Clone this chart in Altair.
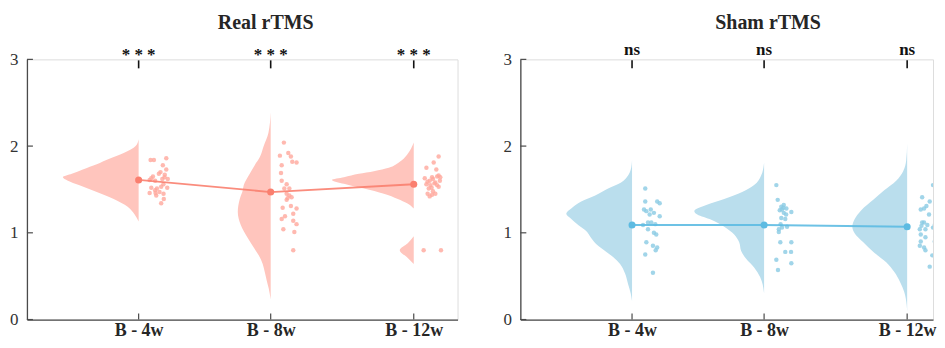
import altair as alt
import pandas as pd

# ---------------- data ----------------
panels = ["Real rTMS", "Sham rTMS"]
conditions = ["B - 4w", "B - 8w", "B - 12w"]
positions = [1.0, 1.96, 3.0]
sig_real = ["* * *", "* * *", "* * *"]
sig_sham = ["ns", "ns", "ns"]
means_real = [1.61, 1.47, 1.56]
means_sham = [1.09, 1.09, 1.07]

# violin half-profiles: value and density (half-width)
real_4w_vy = [1.13, 1.21, 1.30, 1.39, 1.47, 1.55, 1.60, 1.64, 1.68, 1.73, 1.79, 1.85, 1.92, 2.00, 2.08]
real_4w_vd = [0.0, 0.04, 0.11, 0.25, 0.42, 0.60, 0.71, 0.76, 0.67, 0.56, 0.42, 0.30, 0.15, 0.03, 0.0]
real_8w_vy = [0.23, 0.36, 0.45, 0.55, 0.64, 0.74, 0.83, 0.94, 1.09, 1.24, 1.39, 1.49, 1.55, 1.68, 1.78, 1.87, 2.00, 2.15, 2.39]
real_8w_vd = [0.0, 0.02, 0.04, 0.06, 0.08, 0.12, 0.17, 0.23, 0.30, 0.33, 0.31, 0.28, 0.27, 0.21, 0.16, 0.11, 0.07, 0.023, 0.0]
real_12w_vy = [1.28, 1.34, 1.39, 1.45, 1.51, 1.565, 1.61, 1.64, 1.68, 1.71, 1.75, 1.81, 1.90, 2.04]
real_12w_vd = [0.0, 0.067, 0.16, 0.30, 0.50, 0.70, 0.82, 0.70, 0.55, 0.40, 0.25, 0.15, 0.067, 0.0]
real_12w_low_vy = [0.64, 0.72, 0.80, 0.88, 0.96]
real_12w_low_vd = [0.0, 0.07, 0.14, 0.06, 0.0]
sham_4w_vy = [0.21, 0.30, 0.41, 0.53, 0.64, 0.72, 0.79, 0.87, 0.94, 1.02, 1.09, 1.17, 1.22, 1.28, 1.36, 1.43, 1.51, 1.58, 1.66, 1.73, 1.84]
sham_4w_vd = [0.0, 0.013, 0.04, 0.07, 0.12, 0.19, 0.27, 0.36, 0.41, 0.46, 0.54, 0.62, 0.66, 0.61, 0.51, 0.37, 0.24, 0.11, 0.04, 0.013, 0.0]
sham_8w_vy = [0.30, 0.49, 0.60, 0.70, 0.79, 0.89, 0.98, 1.07, 1.15, 1.21, 1.25, 1.32, 1.39, 1.47, 1.55, 1.66, 1.81]
sham_8w_vd = [0.0, 0.04, 0.10, 0.18, 0.23, 0.25, 0.30, 0.40, 0.53, 0.67, 0.70, 0.58, 0.40, 0.22, 0.10, 0.03, 0.0]
sham_12w_vy = [0.09, 0.17, 0.32, 0.43, 0.55, 0.66, 0.77, 0.89, 1.00, 1.07, 1.15, 1.26, 1.38, 1.49, 1.60, 1.71, 1.83, 2.03]
sham_12w_vd = [0.0, 0.005, 0.03, 0.07, 0.13, 0.21, 0.33, 0.44, 0.53, 0.55, 0.53, 0.46, 0.34, 0.23, 0.11, 0.04, 0.01, 0.0]

# individual points: value and horizontal jitter
real_4w_pts = [1.84, 1.84, 1.86, 1.78, 1.73, 1.70, 1.68, 1.65, 1.63, 1.61, 1.64, 1.62, 1.62, 1.52, 1.51, 1.53, 1.52, 1.46, 1.46, 1.47, 1.45, 1.43, 1.39, 1.34, 1.60, 1.67, 1.56, 1.49]
real_4w_jit = [0.087, 0.111, 0.201, 0.176, 0.201, 0.159, 0.147, 0.104, 0.092, 0.080, 0.188, 0.212, 0.172, 0.092, 0.133, 0.164, 0.208, 0.080, 0.123, 0.152, 0.181, 0.128, 0.183, 0.164, 0.120, 0.190, 0.180, 0.120]
real_8w_pts = [2.04, 1.89, 1.92, 1.88, 1.82, 1.81, 1.78, 1.69, 1.60, 1.56, 1.51, 1.51, 1.45, 1.43, 1.40, 1.41, 1.38, 1.29, 1.31, 1.28, 1.22, 1.19, 1.16, 1.14, 1.10, 1.04, 1.01, 0.80]
real_8w_jit = [0.096, 0.067, 0.128, 0.147, 0.157, 0.188, 0.080, 0.075, 0.080, 0.116, 0.099, 0.136, 0.116, 0.136, 0.123, 0.152, 0.116, 0.087, 0.147, 0.188, 0.164, 0.104, 0.080, 0.164, 0.188, 0.092, 0.172, 0.164]
real_12w_pts = [1.88, 1.81, 1.75, 1.73, 1.66, 1.64, 1.63, 1.60, 1.64, 1.58, 1.56, 1.55, 1.55, 1.51, 1.53, 1.48, 1.45, 1.44, 1.42, 1.45, 0.80, 0.80, 1.62, 1.59, 1.57, 1.65, 1.52, 1.60]
real_12w_jit = [0.181, 0.145, 0.092, 0.164, 0.181, 0.193, 0.080, 0.116, 0.133, 0.157, 0.092, 0.121, 0.169, 0.109, 0.181, 0.140, 0.101, 0.133, 0.116, 0.157, 0.072, 0.198, 0.140, 0.100, 0.150, 0.170, 0.130, 0.190]
sham_4w_pts = [1.51, 1.36, 1.36, 1.34, 1.27, 1.25, 1.27, 1.23, 1.21, 1.19, 1.12, 1.12, 1.10, 1.09, 1.04, 1.00, 0.98, 0.89, 0.85, 0.83, 0.80, 0.75, 0.54]
sham_4w_jit = [0.096, 0.096, 0.183, 0.201, 0.087, 0.104, 0.136, 0.159, 0.128, 0.201, 0.116, 0.140, 0.169, 0.080, 0.116, 0.159, 0.176, 0.104, 0.152, 0.183, 0.172, 0.096, 0.152]
sham_8w_pts = [1.55, 1.38, 1.30, 1.32, 1.28, 1.26, 1.23, 1.24, 1.17, 1.16, 1.07, 1.06, 1.04, 1.01, 0.89, 0.89, 0.78, 0.78, 0.69, 0.65, 0.57, 1.27, 1.21, 1.29, 1.10]
sham_8w_jit = [0.089, 0.099, 0.125, 0.143, 0.162, 0.114, 0.143, 0.198, 0.125, 0.154, 0.167, 0.130, 0.107, 0.107, 0.118, 0.198, 0.154, 0.196, 0.089, 0.198, 0.101, 0.130, 0.160, 0.140, 0.120]
sham_12w_pts = [1.55, 1.41, 1.33, 1.36, 1.31, 1.27, 1.28, 1.21, 1.12, 1.12, 1.08, 1.09, 1.09, 1.04, 1.04, 1.06, 0.98, 0.95, 0.96, 0.90, 0.90, 0.85, 0.83, 0.80, 0.74, 0.61]
sham_12w_jit = [0.188, 0.109, 0.205, 0.164, 0.140, 0.099, 0.123, 0.159, 0.109, 0.123, 0.104, 0.147, 0.201, 0.092, 0.133, 0.188, 0.099, 0.133, 0.205, 0.099, 0.201, 0.092, 0.123, 0.133, 0.183, 0.164]

y_ticks = [0, 1, 2, 3]

# ---------------- tables ----------------
violins = [
    ("Real rTMS", 0, "a", real_4w_vy, real_4w_vd),
    ("Real rTMS", 1, "a", real_8w_vy, real_8w_vd),
    ("Real rTMS", 2, "a", real_12w_vy, real_12w_vd),
    ("Real rTMS", 2, "b", real_12w_low_vy, real_12w_low_vd),
    ("Sham rTMS", 0, "a", sham_4w_vy, sham_4w_vd),
    ("Sham rTMS", 1, "a", sham_8w_vy, sham_8w_vd),
    ("Sham rTMS", 2, "a", sham_12w_vy, sham_12w_vd),
]
rows = []
for p, ci, part, ys, ds in violins:
    for y, d in zip(ys, ds):
        rows.append({"panel": p, "grp": f"g{ci}{part}", "pos": positions[ci], "val": y, "dens": d})
violin_df = pd.DataFrame(rows)

points = [
    ("Real rTMS", 0, real_4w_pts, real_4w_jit),
    ("Real rTMS", 1, real_8w_pts, real_8w_jit),
    ("Real rTMS", 2, real_12w_pts, real_12w_jit),
    ("Sham rTMS", 0, sham_4w_pts, sham_4w_jit),
    ("Sham rTMS", 1, sham_8w_pts, sham_8w_jit),
    ("Sham rTMS", 2, sham_12w_pts, sham_12w_jit),
]
rows = []
for p, ci, vs, js in points:
    for v, j in zip(vs, js):
        rows.append({"panel": p, "pos": positions[ci], "jit": j, "v": v})
pts_df = pd.DataFrame(rows)

means_df = pd.DataFrame(
    [{"panel": "Real rTMS", "pos": positions[i], "m": means_real[i], "sig": sig_real[i]} for i in range(3)]
    + [{"panel": "Sham rTMS", "pos": positions[i], "m": means_sham[i], "sig": sig_sham[i]} for i in range(3)]
)
title_df = pd.DataFrame({"panel": panels, "pos": [positions[1], positions[1]], "label": panels})
yt_df = pd.DataFrame({"t": y_ticks})

# ---------------- styling ----------------
FONT = "Liberation Serif"
PX_PER_UNIT = 138.0
K = 100 / PX_PER_UNIT
X0 = 0.188
H = 261
label_expr = " : ".join(
    [f"abs(datum.value - {p}) < 0.01 ? '{c}'" for p, c in zip(positions[:-1], conditions[:-1])]
) + f" : '{conditions[-1]}'"

xaxis = alt.Axis(values=positions, labelExpr=label_expr, title=None, grid=False, ticks=False,
                 labelFontSize=18, labelFontWeight="bold", labelPadding=2, labelFont=FONT,
                 labelColor="#262626", domainColor="#4a4a4a", domainWidth=1.3)
yaxis = alt.Axis(values=y_ticks, title=None, grid=False, ticks=False, labelFontSize=17,
                 labelPadding=9, labelFont=FONT, labelColor="#333333",
                 domainColor="#4a4a4a", domainWidth=1.3)

palette = {
    "Real rTMS": {"violin": "#FFC5BD", "dot": "#FFA89C", "line": "#FA7F6F"},
    "Sham rTMS": {"violin": "#BADEED", "dot": "#89CAE4", "line": "#5DBBE2"},
}


def make_panel(name, width, sig_dy, title_dx):
    col = palette[name]
    xs = alt.Scale(domain=[X0, X0 + width / PX_PER_UNIT], nice=False, zero=False)
    ys = alt.Scale(domain=[0, 3], nice=False, zero=False)

    vio = alt.Chart(violin_df).transform_filter(alt.datum.panel == name).transform_calculate(
        xl=f"datum.pos - datum.dens * {K}"
    ).mark_area(orient="horizontal", interpolate="monotone", color=col["violin"]).encode(
        y=alt.Y("val:Q", scale=ys, axis=yaxis),
        x=alt.X("xl:Q", scale=xs, axis=xaxis),
        x2="pos:Q",
        detail="grp:N",
    )

    dots = alt.Chart(pts_df).transform_filter(alt.datum.panel == name).transform_calculate(
        xd="datum.pos + datum.jit"
    ).mark_circle(size=20, color=col["dot"], opacity=0.8, clip=True).encode(
        x=alt.X("xd:Q", scale=xs, axis=xaxis),
        y=alt.Y("v:Q", scale=ys, axis=yaxis),
    )

    base_m = alt.Chart(means_df).transform_filter(alt.datum.panel == name)
    line = base_m.mark_line(color=col["line"], strokeWidth=1.8, opacity=0.9).encode(
        x=alt.X("pos:Q", scale=xs, axis=xaxis),
        y=alt.Y("m:Q", scale=ys, axis=yaxis),
    )
    mpts = base_m.mark_circle(size=50, color=col["line"], opacity=1).encode(
        x=alt.X("pos:Q", scale=xs, axis=xaxis),
        y=alt.Y("m:Q", scale=ys, axis=yaxis),
    )
    sig_tick = base_m.mark_rule(color="#111111", strokeWidth=1.6).encode(
        x=alt.X("pos:Q", scale=xs, axis=xaxis),
        y=alt.value(1),
        y2=alt.value(9),
    )
    sig_txt = base_m.mark_text(font=FONT, fontSize=17, fontWeight="bold", color="#111111",
                               baseline="alphabetic", dy=sig_dy).encode(
        x=alt.X("pos:Q", scale=xs, axis=xaxis),
        y=alt.value(0),
        text="sig:N",
    )
    xt = base_m.mark_rule(color="#4a4a4a", strokeWidth=1.2).encode(
        x=alt.X("pos:Q", scale=xs, axis=xaxis),
        y=alt.value(H),
        y2=alt.value(H - 6),
    )
    yt = alt.Chart(yt_df).mark_rule(color="#4a4a4a", strokeWidth=1.2).encode(
        y=alt.Y("t:Q", scale=ys, axis=yaxis),
        x=alt.value(0),
        x2=alt.value(6),
    )
    ttl = alt.Chart(title_df).transform_filter(alt.datum.panel == name).mark_text(
        font=FONT, fontSize=20, fontWeight="bold", color="#262626", baseline="alphabetic", dx=title_dx
    ).encode(
        x=alt.X("pos:Q", scale=xs, axis=xaxis),
        y=alt.value(-30),
        text="label:N",
    )
    return alt.layer(vio, dots, line, mpts, xt, yt, sig_tick, sig_txt, ttl).properties(width=width, height=H)


left = make_panel("Real rTMS", 432, 1, -5)
right = make_panel("Sham rTMS", 414, -4, 4)

chart = alt.hconcat(left, right, spacing=44).properties(
    padding={"left": 1, "top": 4, "right": 0, "bottom": 0}
).configure_view(stroke=None).configure(background="white")

chart.save("out.html", embed_options={"renderer": "svg", "actions": False})
